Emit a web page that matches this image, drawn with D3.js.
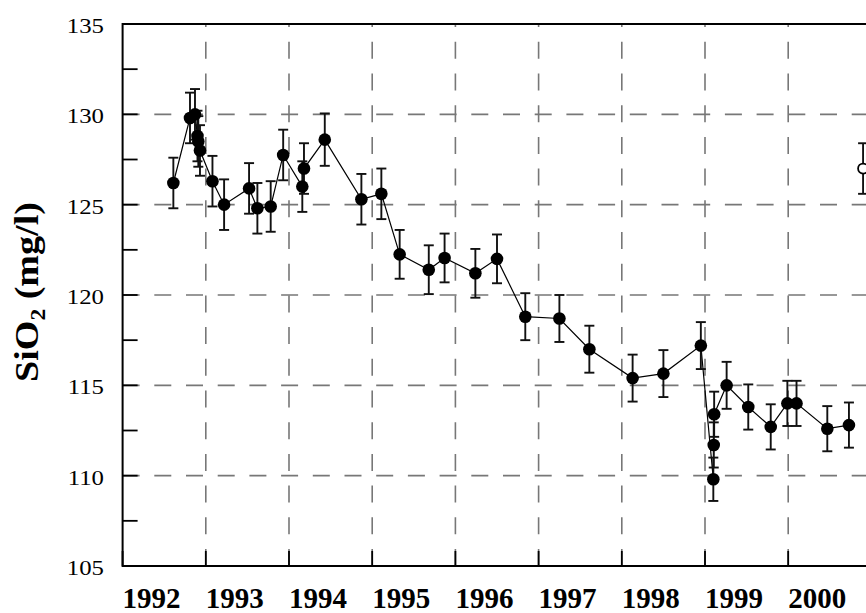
<!DOCTYPE html>
<html>
<head>
<meta charset="utf-8">
<script src="https://cdn.jsdelivr.net/npm/d3@7"></script>
<style>
  html, body { margin: 0; padding: 0; background: #fff; }
  svg { display: block; }
</style>
</head>
<body>
<svg id="chart" width="866" height="613"></svg>
<script>
// Sampling dates (decimal years) of the connected SiO2 series
const sampleDates = [
  1992.61, 1992.81, 1992.87, 1992.90, 1992.91, 1992.93, 1993.08, 1993.22,
  1993.52, 1993.62, 1993.78, 1993.93, 1994.16, 1994.18, 1994.43, 1994.87,
  1995.11, 1995.33, 1995.68, 1995.87, 1996.24, 1996.50, 1996.84, 1997.25,
  1997.61, 1998.13, 1998.50, 1998.95, 1999.10, 1999.105, 1999.11, 1999.26,
  1999.52, 1999.79, 1999.99, 2000.10, 2000.47, 2000.73
];
// SiO2 concentration (mg/l)
const silica = [
  126.2, 129.8, 130.0, 128.8, 128.5, 128.0, 126.3, 125.0,
  125.9, 124.8, 124.9, 127.75, 126.0, 127.0, 128.6, 125.3,
  125.6, 122.25, 121.4, 122.05, 121.2, 122.0, 118.8, 118.7,
  117.0, 115.4, 115.65, 117.2, 109.8, 111.7, 113.4, 115.0,
  113.8, 112.7, 114.0, 114.0, 112.6, 112.8
];
// Analytical uncertainty (± mg/l)
const silicaErr = [
  1.4, 1.4, 1.4, 1.4, 1.4, 1.4, 1.4, 1.4,
  1.4, 1.4, 1.4, 1.4, 1.4, 1.4, 1.45, 1.4,
  1.4, 1.35, 1.35, 1.35, 1.35, 1.35, 1.3, 1.3,
  1.3, 1.3, 1.3, 1.3, 1.2, 1.25, 1.25, 1.3,
  1.25, 1.25, 1.25, 1.25, 1.25, 1.25
];
// Separate (open-symbol) sample
const openDates = [2000.90];
const openSilica = [127.0];
const openErr = [1.4];

const yearTicks = [1992, 1993, 1994, 1995, 1996, 1997, 1998, 1999, 2000];
const yMajorTicks = [105, 110, 115, 120, 125, 130, 135];
const yMinorTicks = [107.5, 112.5, 117.5, 122.5, 127.5, 132.5];
const yGridValues = [110, 115, 120, 125, 130];
const xGridYears = [1993, 1994, 1995, 1996, 1997, 1998, 1999, 2000];

const svg = d3.select("#chart");
const x = d3.scaleLinear().domain([1992, 2001]).range([122.6, 871.4]);
const y = d3.scaleLinear().domain([105, 135]).range([566, 24]);

const serif = "'Liberation Serif', 'Times New Roman', serif";
const dash = "17,14.7";

// Dashed grid
const grid = svg.append("g").attr("stroke", "#777").attr("stroke-width", 1.6)
  .attr("stroke-dasharray", dash).attr("fill", "none");
grid.selectAll("line.h").data(yGridValues).join("line")
  .attr("class", "h")
  .attr("x1", x(1992)).attr("x2", x(2001))
  .attr("y1", d => y(d)).attr("y2", d => y(d));
grid.selectAll("line.v").data(xGridYears).join("line")
  .attr("class", "v")
  .attr("x1", d => x(d)).attr("x2", d => x(d))
  .attr("y1", y(105)).attr("y2", y(135));

// Frame
svg.append("rect")
  .attr("x", x(1992)).attr("y", y(135))
  .attr("width", x(2001) - x(1992)).attr("height", y(105) - y(135))
  .attr("fill", "none").attr("stroke", "#000").attr("stroke-width", 2);

// Inward ticks
const ticks = svg.append("g").attr("stroke", "#000").attr("stroke-width", 1.8);
ticks.selectAll("line.ym").data(yMajorTicks.concat(yMinorTicks)).join("line")
  .attr("class", "ym")
  .attr("x1", x(1992)).attr("x2", x(1992) + 15)
  .attr("y1", d => y(d)).attr("y2", d => y(d));
ticks.selectAll("line.xt").data(yearTicks).join("line")
  .attr("class", "xt")
  .attr("x1", d => x(d)).attr("x2", d => x(d))
  .attr("y1", y(105)).attr("y2", y(105) - 15);

// Y tick labels
svg.append("g").selectAll("text").data(yMajorTicks).join("text")
  .attr("transform", d => `translate(104,${y(d) + 9}) scale(1.18,1)`)
  .attr("text-anchor", "end")
  .attr("font-family", serif).attr("font-size", 21)
  .attr("fill", "#000")
  .text(d => d);

// X tick labels (left-aligned on each year line)
svg.append("g").selectAll("text").data(yearTicks).join("text")
  .attr("x", d => x(d)).attr("y", 608)
  .attr("font-family", serif).attr("font-size", 29).attr("font-weight", "bold")
  .attr("fill", "#000")
  .text(d => d);

// Y axis title
const title = svg.append("text")
  .attr("transform", "translate(38,292) rotate(-90) scale(1.12,1)")
  .attr("text-anchor", "middle")
  .attr("font-family", serif).attr("font-size", 34).attr("font-weight", "bold")
  .attr("fill", "#000");
title.append("tspan").text("SiO");
title.append("tspan").attr("font-size", 21).attr("dy", 7).text("2");
title.append("tspan").attr("dy", -7).text(" (mg/l)");

// Series data as records
const pts = sampleDates.map((t, i) => ({ t, v: silica[i], e: silicaErr[i] }));
const openPts = openDates.map((t, i) => ({ t, v: openSilica[i], e: openErr[i] }));

// Connecting line
svg.append("path")
  .datum(pts)
  .attr("fill", "none").attr("stroke", "#000").attr("stroke-width", 1.2)
  .attr("d", d3.line().x(d => x(d.t)).y(d => y(d.v)));

// Error bars
function errorBars(data) {
  const g = svg.append("g").attr("stroke", "#111").attr("stroke-width", 1.9);
  const cap = 5;
  g.selectAll("line.s").data(data).join("line")
    .attr("x1", d => x(d.t)).attr("x2", d => x(d.t))
    .attr("y1", d => y(d.v - d.e)).attr("y2", d => y(d.v + d.e));
  g.selectAll("line.top").data(data).join("line")
    .attr("x1", d => x(d.t) - cap).attr("x2", d => x(d.t) + cap)
    .attr("y1", d => y(d.v + d.e)).attr("y2", d => y(d.v + d.e));
  g.selectAll("line.bot").data(data).join("line")
    .attr("x1", d => x(d.t) - cap).attr("x2", d => x(d.t) + cap)
    .attr("y1", d => y(d.v - d.e)).attr("y2", d => y(d.v - d.e));
}
errorBars(pts);
errorBars(openPts);

// Markers
svg.append("g").selectAll("circle").data(pts).join("circle")
  .attr("cx", d => x(d.t)).attr("cy", d => y(d.v)).attr("r", 6.3)
  .attr("fill", "#000");
svg.append("g").selectAll("circle").data(openPts).join("circle")
  .attr("cx", d => x(d.t)).attr("cy", d => y(d.v)).attr("r", 5)
  .attr("fill", "#fff").attr("stroke", "#000").attr("stroke-width", 1.8);
</script>
</body>
</html>
